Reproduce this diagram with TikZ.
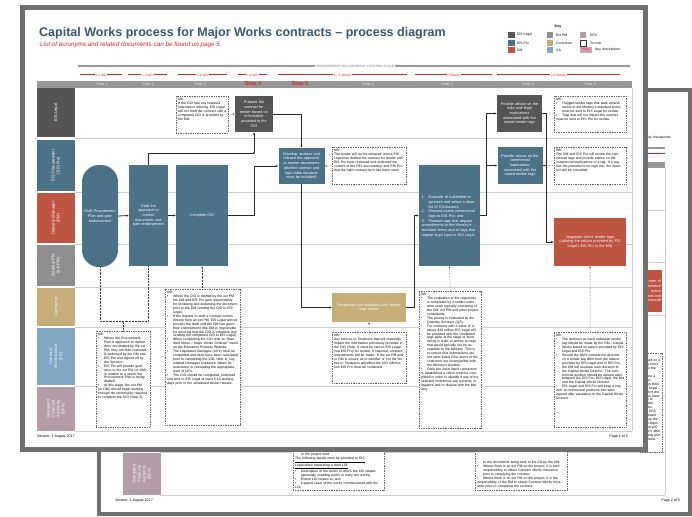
\documentclass[tikz,border=0pt]{standalone}
\usepackage{fontspec}
\setmainfont{Liberation Sans}
\usepackage{xcolor}
\usetikzlibrary{positioning, calc, arrows.meta}
\definecolor{legalgray}{RGB}{85,85,85}
\definecolor{problue}{RGB}{76,114,135}
\definecolor{dmred}{RGB}{190,84,66}
\definecolor{extgray}{RGB}{142,142,142}
\definecolor{contrtan}{RGB}{198,174,122}
\definecolor{cablue}{RGB}{128,168,196}
\definecolor{dfamauve}{RGB}{180,156,168}
\definecolor{titleblue}{RGB}{58,86,112}
\definecolor{stepred}{RGB}{214,38,38}
\definecolor{framegray}{RGB}{112,112,112}
\definecolor{headgray}{RGB}{152,152,152}
\definecolor{laneline}{RGB}{206,206,206}
\definecolor{keypink}{RGB}{214,160,176}

\newcommand{\nbpoint}{\par\noindent\hangindent=6pt\hangafter=1\makebox[6pt][l]{\textbullet}}
\newcommand{\evnum}[1]{\par\noindent\hangindent=7pt\hangafter=1\makebox[7pt][l]{#1}}

\tikzset{
  flow/.style={-{Latex[length=2.4pt,width=2.2pt]}, line width=0.8pt, black!85},
  flowline/.style={line width=0.8pt, black!85},
  notelink/.style={-{Latex[length=1.8pt,width=1.6pt]}, densely dotted, line width=0.45pt, black!75},
  actbox/.style={rectangle, text=white, align=center, inner sep=1pt,
    font=\fontsize{3.8}{4.7}\selectfont},
  notebox/.style={draw=black!60, dash pattern=on 1pt off 0.7pt, line width=0.3pt, fill=white,
    inner sep=0pt, anchor=north west},
  notetext/.style={anchor=north west, align=left, inner sep=0pt,
    font=\fontsize{3.4}{3.95}\selectfont},
  lanebox/.style={rotate=90, text=white, align=center, inner sep=0pt,
    minimum height=38pt, font=\fontsize{4.2}{5}\selectfont},
  stephead/.style={font=\fontsize{4}{4}\selectfont, text=white!88!black},
  keystep/.style={font=\bfseries\fontsize{5.5}{5.5}\selectfont, text=stepred},
  weeks/.style={font=\fontsize{3.2}{3.2}\selectfont, text=stepred, fill=white, inner sep=0.8pt},
  durline/.style={stepred, line width=1pt},
  keytext/.style={anchor=west, font=\fontsize{3.4}{3.4}\selectfont, inner sep=0pt},
  smalltext/.style={font=\fontsize{3.6}{3.6}\selectfont, inner sep=0pt},
}

\begin{document}
\begin{tikzpicture}[x=1pt, y=-1pt]
  \useasboundingbox (0,0) rectangle (692,516);

  % Page 2 (behind)
  \fill[framegray] (97,88) rectangle (692,516);
  \fill[white] (101,92) rectangle (688,512);
  \node[keytext, anchor=east] (bkey) at (671,138) {Key checkpoints};
  \draw[headgray, line width=1.2pt] (160,148) -- (665,148);
  \draw[durline] (575,153) -- (665,153);
  \fill[headgray] (124,162) rectangle (665,168);
  \foreach \y in {210,262,315,357,396,452,495}
    \draw[laneline, line width=0.6pt] (160,\y) -- (665,\y);
  \draw[laneline, line width=0.6pt] (665,168) -- (665,495);
  \node[lanebox, fill=dfamauve, minimum width=42pt] (blaneDFA) at (142,474) {Delegated\\Financial\\Authority\\(DFA)};
  \node[actbox, fill=dmred, minimum width=30pt, minimum height=42pt, text width=28pt, align=right] (bneg) at (647,291)
    {Letter of\\acceptance\\notice\\and award and\\execute};
  \node[notebox, minimum width=22pt, minimum height=99pt] (bnbcw) at (640,353) {};
  \node[notetext, text width=19pt] (bnbcwt) at ([shift={(2pt,-2pt)}]bnbcw.north west)
    {NB:\\signed on a\\copy must\\go to the\\CA.\\Where a\\minor\\works then\\EIS Legal\\confirm the\\works (and\\any) to\\Capital Works.\\The DFA\\reviewed\\before the\\DFA signs\\it and will\\send it after\\signing and\\returned.};
  \node[notebox, minimum width=91pt, minimum height=50pt] (bnbloi) at (293,440) {};
  \node[notetext, text width=86pt, anchor=south west] (bnbloit) at ([shift={(2pt,2pt)}]bnbloi.south west)
    {\hspace*{6pt}or the project lead.\par
     \underline{The following details must be provided to EIS}\par
     \underline{Legal when requesting a draft LOI:}
     \nbpoint Description of the works to which the LOI relates (generally enabling works or early site works);
     \nbpoint Extent LOI relates to; and
     \nbpoint Capped value of the works commissioned with the LOI.};
  \node[notebox, minimum width=92pt, minimum height=50pt] (bnbins) at (475,440) {};
  \node[notetext, text width=86pt, anchor=south west] (bnbinst) at ([shift={(2pt,2pt)}]bnbins.south west)
    {\hspace*{6pt}to the documents being sent to the CA by the DM.
     \nbpoint Where there is an ext PM on the project, it is their responsibility to obtain Contract Works Insurance prior to complying the contract.
     \nbpoint Where there is no ext PM on the project, it is the responsibility of the DM to obtain Contract Works Insurance prior to complying the contract.};
  \node[smalltext, anchor=west] (bver) at (115,501) {Version: 1 August 2017};
  \node[smalltext, anchor=east] (bpage) at (680,501) {Page 2 of 5};

  % Page 1 (front)
  \fill[framegray] (20,5) rectangle (648,452);
  \fill[white] (25,10) rectangle (643,447);

  % Title and key
  \node[anchor=west, inner sep=0pt, text=titleblue, font=\bfseries\fontsize{12.5}{13}\selectfont] (title) at (39,33)
    {Capital Works process for Major Works contracts – process diagram};
  \node[anchor=west, inner sep=0pt, text=stepred, font=\itshape\fontsize{6.3}{7}\selectfont] (subtitle) at (40,45)
    {List of acronyms and related documents can be found on page 5};
  \node[font=\bfseries\fontsize{3.6}{3.6}\selectfont, inner sep=0pt] (keyhead) at (558,27) {Key};
  \foreach \c/\t/\y [count=\i] in {legalgray/EIS Legal/35, problue/EIS Pro/43, dmred/DM/50}
    { \fill[\c] (508,\y-3) rectangle (515,\y+3);
      \node[keytext] (keya\i) at (517,\y) {\t}; }
  \foreach \c/\t/\y [count=\i] in {extgray/Ext PM/35, contrtan/Contractor/43, cablue/CA/50}
    { \fill[\c] (547,\y-3) rectangle (553,\y+3);
      \node[keytext] (keyb\i) at (556,\y) {\t}; }
  \fill[dfamauve] (580,32) rectangle (586,38);
  \node[keytext] (keyc1) at (590,35) {DFA};
  \draw[black!80, line width=0.4pt] (580,40) rectangle (586,46);
  \node[keytext] (keyc2) at (590,43) {To note};
  \node[fill=keypink, text=stepred, inner sep=0pt, minimum width=12pt, minimum height=6pt,
    font=\fontsize{3.2}{3.2}\selectfont] (keyc3) at (586,50) {Step};
  \node[keytext] (keyc4) at (595,50) {Key checkpoints};

  % Stage and durations
  \draw[headgray, line width=1.3pt] (78,66) -- (630,66);
  \node[fill=white, text=black!55, inner sep=1pt, font=\fontsize{3.1}{3.1}\selectfont] (stage) at (355,66)
    {PROCUREMENT AND CONTRACT INITIATION STAGE};
  \foreach \a/\b/\t [count=\i] in {80/122/1-3 WD, 128/167/1-3 WD, 178/227/1-2 WD, 238/267/1-2 WD,
      278/407/3 – 5 Weeks, 415/492/2 Weeks, 497/620/3-4 Weeks}
    \draw[durline] (\a,75) -- (\b,75) node[midway, weeks] (dur\i) {\t};

  % Step header
  \fill[headgray] (37,81) rectangle (632,88);
  \foreach \x/\n in {102/1, 148/2, 200/3, 368/6, 447/7, 528/8, 590/9}
    \node[stephead] (step\n) at (\x,84.5) {Step \n};
  \node[keystep] (step4) at (253,84.5) {Step 4};
  \node[keystep] (step5) at (300,84.5) {Step 5};

  % Swim lanes
  \foreach \y in {138.5,192,244,287,327,386.5,431}
    \draw[laneline, line width=0.6pt] (75,\y) -- (632,\y);
  \draw[laneline, line width=0.6pt] (632,88) -- (632,431);
  \node[lanebox, fill=legalgray, minimum width=49pt] (laneLegal) at (56,112.5) {EIS Legal};
  \node[lanebox, fill=problue, minimum width=51pt] (lanePro) at (56,165.5) {EIS Procurement\\(EIS Pro)};
  \node[lanebox, fill=dmred, minimum width=50pt] (laneDM) at (56,218) {Delivery Manager\\(DM)};
  \node[lanebox, fill=extgray, minimum width=41pt] (laneExt) at (56,265.5) {External PM\\(ext PM)};
  \node[lanebox, fill=contrtan, minimum width=38pt] (laneContr) at (56,307) {Contractor};
  \node[lanebox, fill=cablue, minimum width=57pt] (laneCA) at (56,356.5) {Contract\\Administrator\\(CA)};
  \node[lanebox, fill=dfamauve, minimum width=44pt] (laneDFA) at (56,409) {Delegated\\Financial\\Authority\\(DFA)};

  % Process steps
  \node[actbox, fill=problue, rounded corners=17pt, minimum width=36pt, minimum height=102pt, text width=34pt] (dpp)
    at (100,216) {Draft Procurement\\Plan and gain\\endorsement};
  \node[actbox, fill=problue, minimum width=39pt, minimum height=101pt, text width=37pt] (dam)
    at (148.5,215.5) {Draft the\\approach to\\market\\documents and\\gain endorsement};
  \node[actbox, fill=problue, minimum width=52pt, minimum height=101pt, text width=50pt] (cio)
    at (202,215.5) {Complete CIO};
  \node[actbox, fill=legalgray, minimum width=38pt, minimum height=36pt, text width=36pt] (prep)
    at (254,114) {Prepare the\\contract for\\tender based on\\information\\provided in the\\CIO};
  \node[actbox, fill=problue, minimum width=45pt, minimum height=36pt, text width=44pt] (dev)
    at (301.5,166) {Develop, analyse and\\release the approach\\to market documents\\(drafted contract and\\tags table template\\must be included)};
  \node[actbox, fill=contrtan, minimum width=74pt, minimum height=29pt, text width=70pt] (resp)
    at (369,307.5) {Responses are submitted with tender\\tags raised};
  \node[actbox, fill=problue, minimum width=61pt, minimum height=101pt, text width=56pt, align=left] (eval)
    at (449.5,215.5) {\evnum{1.}Evaluate all submitted responses and select a short list of Contractors;
      \evnum{2.}Forward purely commercial tags to EIS Pro; and
      \evnum{3.}Forward tags that request amendments to the Ministry's standard terms and or tags that require legal input to EIS Legal.};
  \node[actbox, fill=legalgray, minimum width=45pt, minimum height=37pt, text width=43pt] (advl)
    at (519.5,113.5) {Provide advice on the\\risks and legal\\implications\\associated with the\\raised tender tags};
  \node[actbox, fill=problue, minimum width=44pt, minimum height=37pt, text width=43pt] (advp)
    at (520,165.5) {Provide advice on the\\commercial\\implications\\associated with the\\raised tender tags};
  \node[actbox, fill=dmred, minimum width=72pt, minimum height=48pt, text width=68pt] (neg)
    at (590,242) {Negotiate select tender tags\\(utilising the advice provided by EIS\\Legal / EIS Pro in the NB)};

  % Notes
  \node[notebox, minimum width=52pt, minimum height=37pt] (nbprep) at (176,96) {};
  \node[notetext, text width=48pt] (nbprept) at ([shift={(2pt,-2pt)}]nbprep.north west)
    {NB:\\If the CIO has any required information missing, EIS Legal will not draft the contract until a completed CIO is provided by the DM.};
  \node[notebox, minimum width=74pt, minimum height=37pt] (nbdev) at (332,147) {};
  \node[notetext, text width=70pt] (nbdevt) at ([shift={(2pt,-2pt)}]nbdev.north west)
    {NB:\\The tender will not be released unless EIS Legal has drafted the contract for tender and EIS Pro have reviewed and endorsed the content of the RFx document(s) and EIS Pro that the right contract form has been used.};
  \node[notebox, minimum width=74pt, minimum height=51pt] (nbresp) at (332,332) {};
  \node[notetext, text width=70pt] (nbrespt) at ([shift={(2pt,-2pt)}]nbresp.north west)
    {NB:\\Any Notices to Tenderers that will materially impact the information previously provided in the CIO (Step 3) must be sent to EIS Legal (via EIS Pro) for review. If required, contract amendments will be made. If the ext PM and or DM is unsure as to whether or not the Notice to Tenderers will affect the CIO information EIS Pro must be contacted.};
  \node[notebox, minimum width=62pt, minimum height=137pt] (nbeval) at (419,291) {};
  \node[notetext, text width=58pt] (nbevalt) at ([shift={(2pt,-2pt)}]nbeval.north west)
    {NB:\nbpoint The evaluation of the responses is completed by a tender evaluation team typically consisting of the DM, ext PM and other project consultants.
     \nbpoint The pricing is evaluated by the Quantity Surveyor (QS).
     \nbpoint For contracts with a value of or above \$10 million EIS Legal will be provided with the completed tags table at the stage of short listing in order to advise on tags that would typically not be acceptable to the Ministry. This is to ensure that submissions are not short listed if the terms of the contractor are incompatible with the Ministry's position.
     \nbpoint Once the short listed contractors is established a check must be completed in order to identify if any of the selected contractors are currently in litigation and or dispute with the Ministry.};
  \node[notebox, minimum width=72pt, minimum height=36pt] (nbadvl) at (554,96) {};
  \node[notetext, text width=68pt] (nbadvlt) at ([shift={(2pt,-2pt)}]nbadvl.north west)
    {NB:\nbpoint Flagged tender tags that seek amendments to the Ministry's standard terms must be sent to EIS Legal for review.
     \nbpoint Tags that will not impact the contract must be sent to EIS Pro for review.};
  \node[notebox, minimum width=72pt, minimum height=37pt] (nbadvp) at (554,147) {};
  \node[notetext, text width=68pt] (nbadvpt) at ([shift={(2pt,-2pt)}]nbadvp.north west)
    {NB:\\The DM and EIS Pro will review the commercial tags and provide advice on the commercial implications of a tag. If a tag has the potential to be high risk, the Sponsor will be consulted.};
  \node[notebox, minimum width=72pt, minimum height=95pt] (nbneg) at (554,332) {};
  \node[notetext, text width=68pt] (nbnegt) at ([shift={(2pt,-2pt)}]nbneg.north west)
    {NB:\nbpoint The decision on each individual tender tag should be made by the DM / Capital Works based on advice provided by EIS Legal and EIS Pro.
     \nbpoint Should the DM's commercial decision on a tender tag differ from the advice provided by EIS Legal and or EIS Pro, the DM will escalate such decision to the Capital Works Director. The commercial position should be agreed upon between the EIS Pro, EIS Legal, the DM and the Capital Works Director.
     \nbpoint EIS Legal and EIS Pro will keep a register of commercial positions that were agreed after escalation to the Capital Works Director.};
  \node[notebox, minimum width=54pt, minimum height=96pt] (nbpp) at (96,331) {};
  \node[notetext, text width=50pt] (nbppt) at ([shift={(2pt,-2pt)}]nbpp.north west)
    {NB:\nbpoint Where the Procurement Plan \& approach to market docs are drafted by the ext PM, they are then reviewed \& endorsed by the DM and EIS Pro and signed off by the Sponsor.
     \nbpoint EIS Pro will provide guidance to the ext PM (or DM) in relation to a sector the Procurement Plan is being drafted.
     \nbpoint At this stage, the ext PM (or DM) should begin working through the information required to complete the CIO (Step 3).};
  \node[notebox, minimum width=75pt, minimum height=136pt] (nbcio) at (165,289) {};
  \node[notetext, text width=71pt] (nbciot) at ([shift={(2pt,-2pt)}]nbcio.north west)
    {NB:\nbpoint Where the CIO is drafted by the ext PM, the DM and EIS Pro gain responsibility for reviewing and endorsing the document prior to the DM sending the CIO to EIS Legal.
     \nbpoint If the request to draft a contract comes directly from an ext PM, EIS Legal will not process the draft until the DM has given their endorsement (the DM is responsible for ensuring that the CIO is complete and sending the completed CIO to EIS Legal).
     \nbpoint When completing the CIO refer to ``Standard Notes – Major Works Contract'' found on the Education Property Website.
     \nbpoint The Liquidated Damages (LD's) must be completed and must have been calculated prior to completing the CIO, refer to `Liquidated Damages Guidance' tables for assistance in calculating the appropriate level of LD's.
     \nbpoint The CIO should be completed, endorsed and sent to EIS Legal at least 5-10 working days prior to the scheduled tender release.};

  % Flow
  \coordinate (spine) at (254,153);
  \draw[flow] (dpp.east) -- (dam.west);
  \draw[flow] (dam.east) -- (cio.west);
  \draw[flow] (cio.east) -| (spine |- dev.west) -- (dev.west);
  \draw[flowline] (dam.north) |- (spine);
  \draw[flow] (spine) -- (prep.south);
  \fill[black!85] (spine) circle (1pt);
  \draw[flow] (prep.east) -| (dev.north);
  \draw[flow] (dev.south) |- (resp.west);
  \draw[flow] (resp.east) -- ++(8,0) |- (eval.west);
  \draw[flow] (eval.east) -- ++(6,0) |- (advl.west);
  \draw[flow] (eval.east) -- ++(6,0) |- (advp.west);
  \draw[flow] (advl.east) -- ++(4,0) |- (neg.west);
  \draw[flowline] (advp.east) -- ++(4,0);

  % Note links
  \coordinate (brk) at (123,321);
  \draw[densely dotted, line width=0.45pt, black!75] (dpp.south) |- (brk) -| (dam.south);
  \draw[notelink] (nbpp.north -| brk) -- (brk);
  \draw[notelink] (nbcio.north -| cio.south) -- (cio.south);
  \draw[notelink] (nbprep.east) -- (prep.west);
  \draw[notelink] (nbdev.west) -- (dev.east);
  \draw[notelink] (nbresp.north) -- (resp.south);
  \draw[notelink] (nbeval.north) -- (eval.south);
  \draw[notelink] (nbadvl.west) -- (advl.east);
  \draw[notelink] (nbadvp.west) -- (advp.east);
  \draw[notelink] (nbneg.north) -- (neg.south);

  % Footer
  \node[smalltext, anchor=west] (ver) at (37,437) {Version: 1 August 2017};
  \node[smalltext, anchor=east] (page) at (628,437) {Page 1 of 5};
\end{tikzpicture}
\end{document}
